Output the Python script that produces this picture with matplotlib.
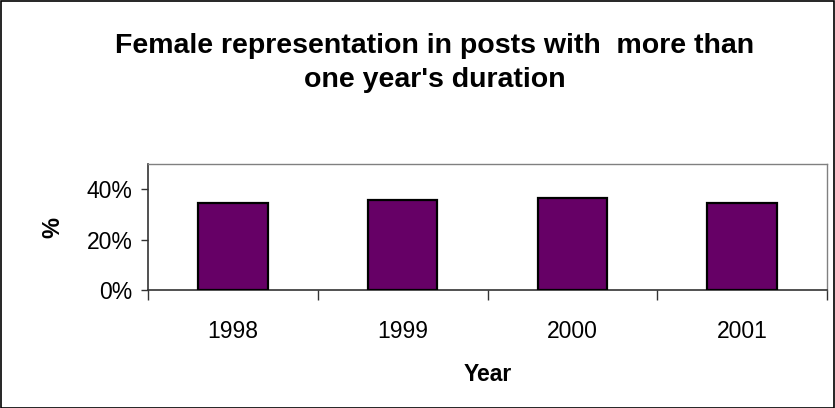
import matplotlib
matplotlib.use("Agg")
import matplotlib.pyplot as plt
from matplotlib.patches import Rectangle
import numpy as np

plt.rcParams['font.family'] = ['Liberation Sans', 'DejaVu Sans']

years = ["1998", "1999", "2000", "2001"]
values = [34.7, 35.8, 36.4, 34.7]
yticks = [0, 20, 40]
ytick_labels = ["0%", "20%", "40%"]

W, H = 835, 408
fig = plt.figure(figsize=(W/100, H/100), dpi=100)
fig.patches.append(Rectangle((0.5/W, 0.5/H), 1 - 1.5/W, 1 - 1.5/H, transform=fig.transFigure,
                             fill=False, edgecolor='black', linewidth=1.2))

left, right, top, bottom = 148, 827, 164, 290
ax = fig.add_axes([left/W, 1 - bottom/H, (right-left)/W, (bottom-top)/H])

x = np.arange(len(years))
ax.bar(x, values, width=0.41, color='#660066', edgecolor='black', linewidth=1.6, zorder=3)
ax.set_xlim(-0.5, len(years) - 0.5)
ax.set_ylim(0, 50)

ax.set_yticks(yticks)
ax.set_yticklabels(ytick_labels, fontsize=16.5)
ax.tick_params(axis='y', direction='out', length=5, width=1, color='#333333', pad=6)

ax.set_xticks(x)
ax.set_xticklabels(years, fontsize=16.5)
ax.tick_params(axis='x', length=0, pad=30)
ax.set_xticks(np.arange(len(years) + 1) - 0.5, minor=True)
ax.tick_params(axis='x', which='minor', direction='out', length=7, width=1, color='#333333')
for t in ax.get_xticklabels():
    t.set_va('center')

for s in ['left', 'bottom']:
    ax.spines[s].set_color('#333333')
    ax.spines[s].set_linewidth(1.2)
for s in ['top', 'right']:
    ax.spines[s].set_color('#808080')
    ax.spines[s].set_linewidth(1.0)

ax.set_xlabel("Year", fontsize=16.5, fontweight='bold', labelpad=14)
ax.set_ylabel("%", fontsize=17, fontweight='bold', labelpad=16)

fig.text(435/W, 1 - 63/H, "Female representation in posts with  more than\none year's duration",
         ha='center', va='center', fontsize=20.5, fontweight='bold', linespacing=1.4)

fig.savefig("out.png", dpi=100)
